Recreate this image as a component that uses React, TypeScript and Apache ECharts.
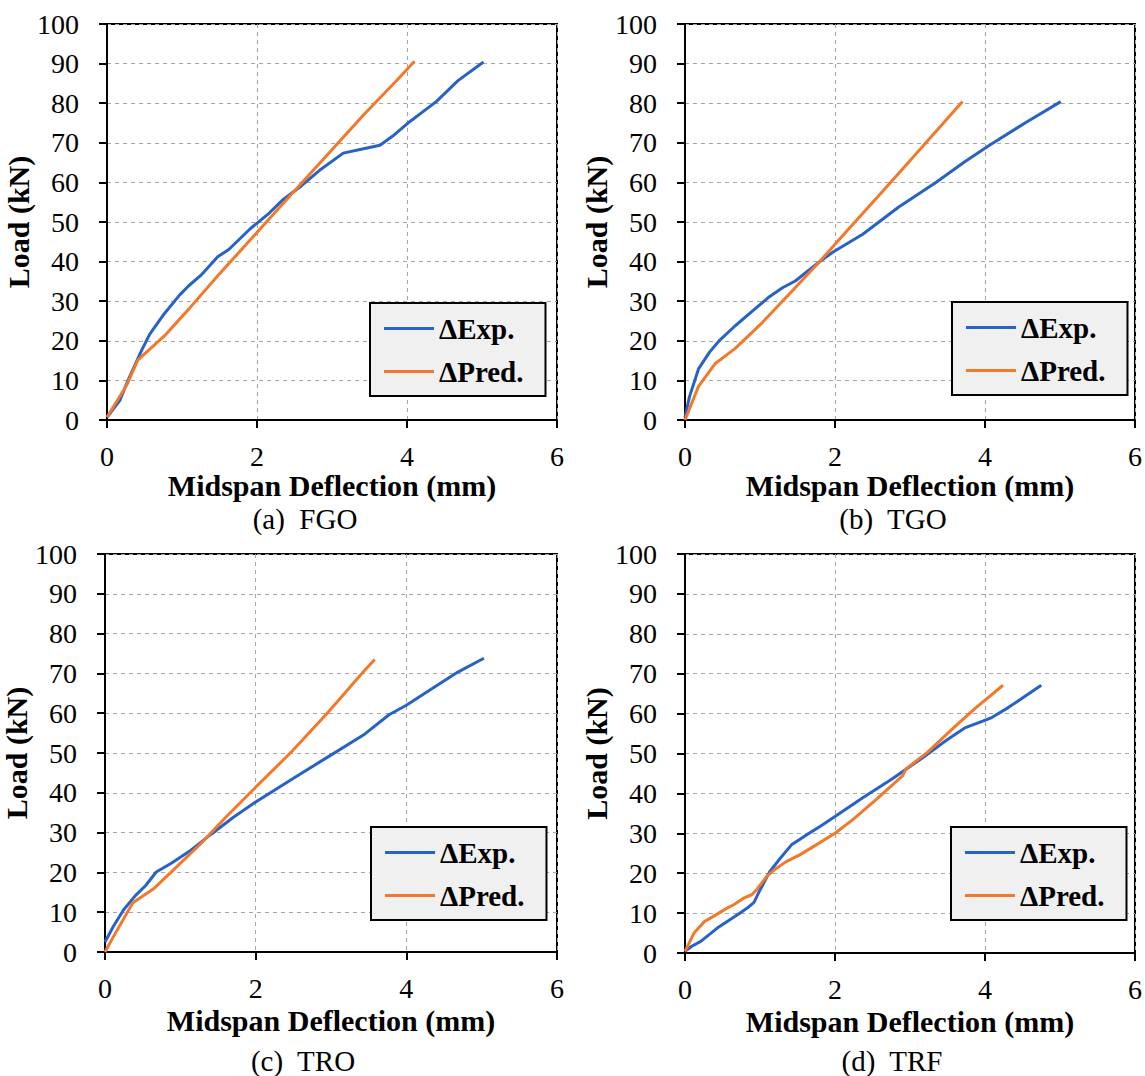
import React, { useEffect, useRef } from 'react';
import * as echarts from 'echarts';

// ---------- data ----------
const seriesNames = ['ΔExp.', 'ΔPred.'];
const panelCaptions = ['(a)  FGO', '(b)  TGO', '(c)  TRO', '(d)  TRF'];
const xAxisTitle = 'Midspan Deflection (mm)';
const yAxisTitle = 'Load (kN)';
const xRange = [0, 6];
const xStep = 2;
const yRange = [0, 100];
const yStep = 10;

// (a) FGO
const fgoExpX = [0, 0.17, 0.28, 0.39, 0.46, 0.57, 0.75, 0.97, 1.09, 1.25, 1.48, 1.62, 1.91, 2.16, 2.35, 2.59, 2.83, 3.15, 3.42, 3.64, 3.81, 4.0, 4.39, 4.68, 5.02];
const fgoExpY = [0.7, 4.9, 10, 14.6, 17.5, 21.7, 26.5, 31.6, 33.9, 36.5, 41.3, 43, 48.3, 52.2, 55.7, 59.1, 63, 67.4, 68.5, 69.4, 71.7, 74.8, 80.4, 85.7, 90.4];
const fgoPredX = [0, 0.26, 0.41, 0.78, 1.09, 1.48, 1.96, 2.45, 2.93, 3.42, 3.9, 4.1];
const fgoPredY = [0.7, 8.7, 15.1, 21.5, 28.0, 36.5, 46.5, 56.8, 66.8, 77.0, 86.5, 90.6];

// (b) TGO
const tgoExpX = [0, 0.06, 0.18, 0.33, 0.45, 0.67, 0.91, 1.13, 1.3, 1.47, 1.79, 1.98, 2.37, 2.85, 3.34, 3.73, 4.07, 4.55, 5.01];
const tgoExpY = [0.7, 5.9, 12.9, 17.2, 19.9, 23.8, 27.7, 31.2, 33.4, 35.1, 39.9, 42.5, 46.9, 53.8, 59.9, 65.2, 69.5, 75.2, 80.4];
const tgoPredX = [0, 0.18, 0.4, 0.67, 1.01, 1.4, 1.79, 2.17, 2.66, 3.15, 3.7];
const tgoPredY = [0, 8.5, 14.2, 18.1, 24.2, 32, 39.9, 48, 58.3, 68.7, 80.4];

// (c) TRO
const troExpX = [0, 0.11, 0.25, 0.4, 0.54, 0.68, 0.88, 1.12, 1.41, 1.7, 2.0, 2.47, 2.95, 3.43, 3.77, 4.0, 4.4, 4.69, 5.03];
const troExpY = [2.5, 6.4, 10.7, 14.1, 16.7, 20.1, 22.3, 25.3, 29.6, 33.8, 37.7, 43.3, 48.9, 54.5, 59.6, 62, 66.9, 70.4, 73.8];
const troPredX = [0, 0.11, 0.37, 0.64, 0.93, 1.26, 1.6, 1.99, 2.47, 2.95, 3.43, 3.58];
const troPredY = [0, 3.8, 12.4, 15.8, 21, 27, 33.8, 41.2, 50.2, 60, 70.4, 73.5];

// (d) TRF
const trfExpX = [0, 0.09, 0.21, 0.43, 0.7, 0.83, 0.92, 1.0, 1.13, 1.27, 1.42, 1.62, 1.8, 2.0, 2.37, 2.76, 3.15, 3.49, 3.73, 3.97, 4.09, 4.31, 4.75];
const trfExpY = [0.4, 1.7, 2.9, 6.25, 9.6, 11.25, 12.7, 15.8, 20.4, 23.75, 27.1, 29.6, 31.7, 34.2, 38.9, 43.6, 48.7, 53.4, 56.4, 58.1, 59, 61.5, 67.1];
const trfPredX = [0, 0.12, 0.26, 0.39, 0.56, 0.65, 0.78, 0.89, 0.96, 1.09, 1.22, 1.35, 1.53, 1.75, 2.0, 2.23, 2.54, 2.9, 2.95, 3.24, 3.58, 3.88, 4.24];
const trfPredY = [0.4, 5, 7.9, 9.3, 11.25, 12.1, 13.75, 14.6, 16, 19.2, 21.25, 22.9, 24.6, 27.1, 30, 33.3, 38.3, 44.4, 46.2, 50.4, 56.4, 61.5, 67.1];

const panelData = [
  [fgoExpX, fgoExpY, fgoPredX, fgoPredY],
  [tgoExpX, tgoExpY, tgoPredX, tgoPredY],
  [troExpX, troExpY, troPredX, troPredY],
  [trfExpX, trfExpY, trfPredX, trfPredY],
];

// ---------- layout / style ----------
const FONT = 'Liberation Serif';
const BLUE = '#2762c6';
const ORANGE = '#f2792b';
const GRID_COLOR = '#a6a6a6';

const grids = [
  { left: 107, top: 24, width: 450, height: 396 },
  { left: 685, top: 24, width: 452, height: 396 },
  { left: 105, top: 554, width: 452, height: 398 },
  { left: 685, top: 554, width: 452, height: 399 },
];
const yNameGaps = [62, 53, 61, 53];
const xNameGaps = [41, 41, 53, 53];
const legendPos = [
  { left: 370, top: 303 },
  { left: 952, top: 302 },
  { left: 371, top: 827 },
  { left: 951, top: 827 },
];
const captionPos = [
  { x: 305, y: 519 },
  { x: 893, y: 519 },
  { x: 303, y: 1061 },
  { x: 892, y: 1061 },
];

const zip = (xs: number[], ys: number[]) => xs.map((x, i) => [x, ys[i]]);

function buildOption() {
  const grid = grids.map((g) => ({
    ...g,
    show: true,
    borderColor: '#000',
    borderWidth: 2,
    backgroundColor: 'transparent',
    containLabel: false,
  }));

  const xAxis = grids.map((_, i) => ({
    type: 'value',
    gridIndex: i,
    min: xRange[0],
    max: xRange[1],
    interval: xStep,
    name: xAxisTitle,
    nameLocation: 'middle',
    nameGap: xNameGaps[i],
    nameTextStyle: { fontFamily: FONT, fontSize: 30, fontWeight: 'bold', color: '#000', lineHeight: 30 },
    axisLine: { show: true, lineStyle: { color: '#000', width: 2 } },
    axisTick: { show: true, inside: false, length: 8, lineStyle: { color: '#000', width: 2 } },
    axisLabel: { fontFamily: FONT, fontSize: 28, color: '#000', margin: 22 },
    splitLine: { show: true, lineStyle: { color: GRID_COLOR, width: 1, type: [4, 4] } },
  }));

  const yAxis = grids.map((_, i) => ({
    type: 'value',
    gridIndex: i,
    min: yRange[0],
    max: yRange[1],
    interval: yStep,
    name: yAxisTitle,
    nameLocation: 'middle',
    nameGap: yNameGaps[i],
    nameTextStyle: { fontFamily: FONT, fontSize: 30, fontWeight: 'bold', color: '#000' },
    axisLine: { show: true, lineStyle: { color: '#000', width: 2 } },
    axisTick: { show: true, inside: false, length: 8, lineStyle: { color: '#000', width: 2 } },
    axisLabel: { fontFamily: FONT, fontSize: 28, color: '#000', margin: 28 },
    splitLine: { show: true, lineStyle: { color: GRID_COLOR, width: 1, type: [4, 4] } },
  }));

  const series: any[] = [];
  panelData.forEach((d, i) => {
    series.push({
      type: 'line',
      name: seriesNames[0],
      xAxisIndex: i,
      yAxisIndex: i,
      data: zip(d[0], d[1]),
      showSymbol: false,
      symbol: 'none',
      color: BLUE,
      lineStyle: { color: BLUE, width: 3 },
      z: 3,
    });
    series.push({
      type: 'line',
      name: seriesNames[1],
      xAxisIndex: i,
      yAxisIndex: i,
      data: zip(d[2], d[3]),
      showSymbol: false,
      symbol: 'none',
      color: ORANGE,
      lineStyle: { color: ORANGE, width: 3 },
      z: 4,
    });
  });

  const legend = legendPos.map((p) => ({
    ...p,
    orient: 'vertical',
    data: seriesNames,
    selectedMode: false,
    backgroundColor: '#f0f0f0',
    borderColor: '#000',
    borderWidth: 2,
    borderRadius: 0,
    padding: [11, 22, 10, 14],
    itemGap: 14,
    itemWidth: 50,
    itemHeight: 3,
    itemStyle: { borderWidth: 0 },
    icon: 'rect',
    textStyle: { fontFamily: FONT, fontSize: 29, fontWeight: 'bold', color: '#000' },
  }));

  const graphic = captionPos.map((p, i) => ({
    type: 'text',
    x: p.x,
    y: p.y,
    style: {
      text: panelCaptions[i],
      fontFamily: FONT,
      fontSize: 29,
      lineHeight: 29,
      fill: '#000',
      align: 'center',
      verticalAlign: 'middle',
    },
  }));

  return {
    animation: false,
    backgroundColor: '#fff',
    grid,
    xAxis,
    yAxis,
    series,
    legend,
    graphic,
  };
}

export default function App() {
  const ref = useRef<HTMLDivElement>(null);
  useEffect(() => {
    if (!ref.current) return;
    const chart = echarts.init(ref.current, undefined, { renderer: 'svg' });
    chart.setOption(buildOption() as any);
    return () => chart.dispose();
  }, []);
  return (
    <div
      ref={ref}
      style={{ position: 'absolute', left: 0, top: 0, width: 1145, height: 1076, background: '#fff' }}
    />
  );
}
